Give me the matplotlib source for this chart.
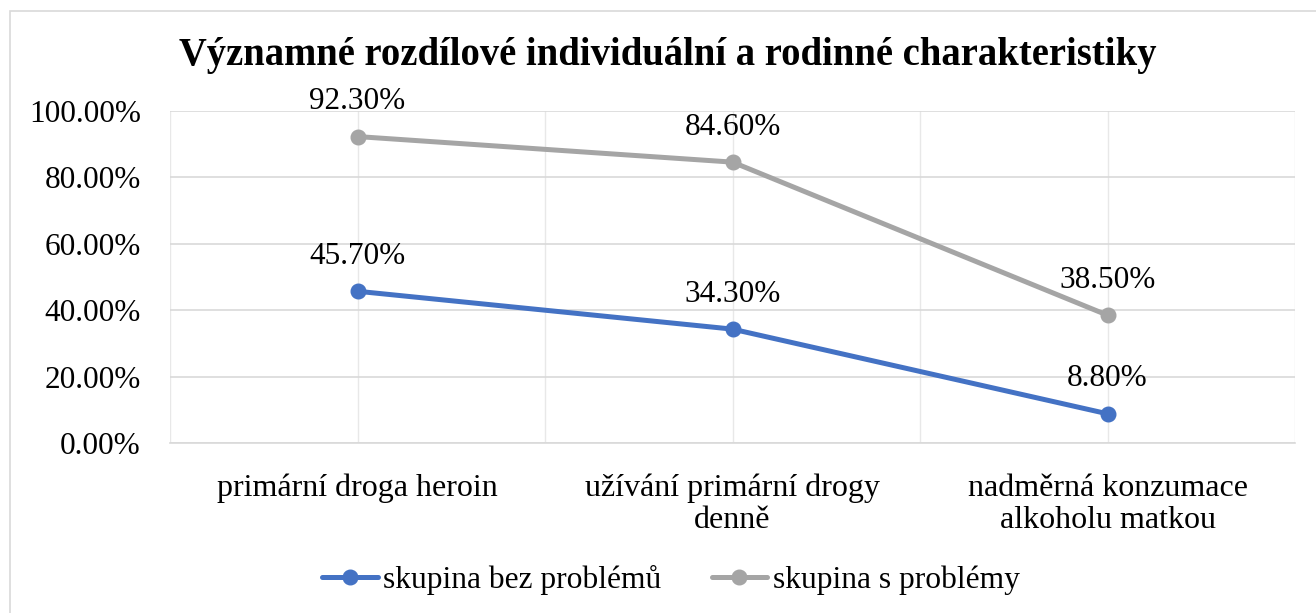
import matplotlib
matplotlib.use("Agg")
import matplotlib.pyplot as plt
from matplotlib.patches import Rectangle
from matplotlib.ticker import FuncFormatter, MultipleLocator

categories = ["primární droga heroin", "užívání primární drogy\ndenně", "nadměrná konzumace\nalkoholu matkou"]
series_names = ["skupina bez problémů", "skupina s problémy"]
bez_problemu = [45.7, 34.3, 8.8]
s_problemy = [92.3, 84.6, 38.5]
title = "Významné rozdílové individuální a rodinné charakteristiky"

plt.rcParams['font.family'] = ['Liberation Serif', 'DejaVu Serif']

fig = plt.figure(figsize=(13.16, 6.13), dpi=100)
ax = fig.add_axes([170/1316, 1-443/613, (1295-170)/1316, (443-111)/613])

# outer chart border
fig.patches.append(Rectangle((10/1316, -0.01), 1.02, (613-11)/613 + 0.01, transform=fig.transFigure,
                             fill=False, edgecolor='#D9D9D9', linewidth=1.2, clip_on=False))

x = list(range(len(categories)))
colors = ['#4472C4', '#A5A5A5']
for vals, name, c in zip([bez_problemu, s_problemy], series_names, colors):
    ax.plot(x, vals, color=c, linewidth=3.6, marker='o', markersize=10.5, label=name,
            solid_capstyle='round', zorder=3)
    for xi, v in zip(x, vals):
        ax.annotate(f"{v:.2f}%", (xi, v), xytext=(0, 35), textcoords='offset pixels',
                    ha='center', va='center', fontsize=22.5, zorder=4)

ax.set_xlim(-0.5, len(categories) - 0.5)
ax.set_ylim(0, 100)
ax.yaxis.set_major_locator(MultipleLocator(20))
ax.yaxis.set_major_formatter(FuncFormatter(lambda v, p: f"{v:.2f}%"))
ax.set_xticks(x)
ax.set_xticklabels(categories, fontsize=23, linespacing=1.15)
ax.xaxis.set_minor_locator(MultipleLocator(0.5))
ax.tick_params(axis='y', labelsize=22.5, length=0, pad=21)
ax.tick_params(axis='x', which='both', length=0, pad=22)
ax.grid(True, which='both', axis='x', color='#E8E8E8', linewidth=1)
ax.grid(True, which='major', axis='y', color='#D9D9D9', linewidth=1.2)
ax.set_axisbelow(True)
for s in ['top', 'right', 'left']:
    ax.spines[s].set_visible(False)
ax.spines['bottom'].set_color('#D9D9D9')
ax.spines['bottom'].set_linewidth(1.2)

fig.text(668/1316, 1-55/613, title, ha='center', va='center', fontsize=27.8, fontweight='bold')

fig.legend(loc='center', bbox_to_anchor=(671/1316, 1-580/613), ncol=2, frameon=False, fontsize=22.7,
           handlelength=1.75, handletextpad=0.18, columnspacing=1.6, borderaxespad=0)

fig.savefig("out.png", dpi=100)
